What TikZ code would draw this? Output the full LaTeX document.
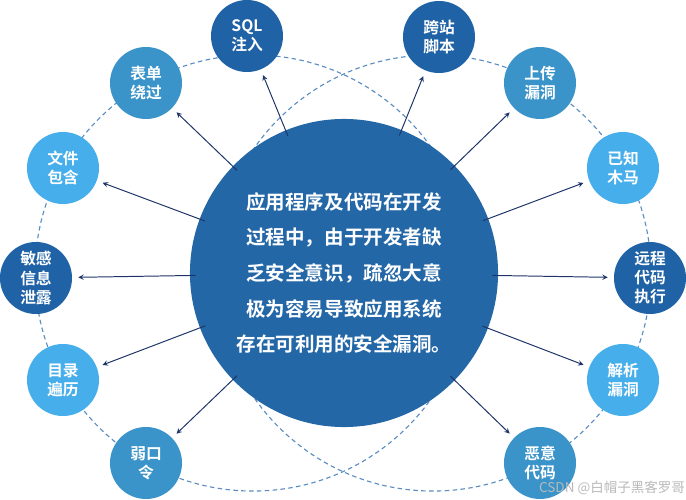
\documentclass[tikz,border=0pt]{standalone}
\usepackage{fontspec}
\usepackage{tikz}
\usepackage{xcolor}
\usetikzlibrary{positioning}
\usetikzlibrary{calc}
\usetikzlibrary{shapes,arrows}
\newfontfamily\cjk{Noto Sans CJK SC}[BoldFont={Noto Sans CJK SC Bold}]

\definecolor{coreblue}{HTML}{2467A7}
\definecolor{darkball}{HTML}{1F62A5}
\definecolor{midball}{HTML}{3A94C9}
\definecolor{lightball}{HTML}{46AEEA}
\definecolor{dashblue}{HTML}{5A8CC2}
\definecolor{arrownavy}{HTML}{1E3468}

\begin{document}
\begin{tikzpicture}[x=0.025cm,y=-0.025cm,
  ball/.style={circle,minimum size=1.8cm,inner sep=0pt,align=center,text=white,
    font={\cjk\bfseries\fontsize{11.2}{13.6}\selectfont}},
  darkb/.style={ball,fill=darkball},
  midb/.style={ball,fill=midball},
  lightb/.style={ball,fill=lightball},
  core/.style={circle,minimum size=7.7cm,inner sep=0pt,fill=coreblue,align=center,text=white,
    font={\cjk\bfseries\fontsize{13.9}{25.4}\selectfont}},
  ring/.style={dashblue,line width=0.8pt,dash pattern=on 3.2pt off 2.4pt},
  arr/.style={-stealth,arrownavy,line width=0.7pt,shorten <=-0.15cm,shorten >=0.15cm}]
\useasboundingbox (0,0) rectangle (686,500);

% dashed rings
\coordinate (lc) at (253,273);
\coordinate (rc) at (433,273);
\draw [ring] (lc) circle [radius=5.45cm];
\draw [ring] (rc) circle [radius=5.45cm];

% centre
\node [core] (c) at (344,273) {应用程序及代码在开发\\过程中，由于开发者缺\\乏安全意识，疏忽大意\\极为容易导致应用系统\\存在可利用的安全漏洞。};

% left side
\node [darkb] (sql) at (247,36) {SQL\\注入};
\node [midb] (bd) at (146,83) {表单\\绕过};
\node [lightb] (wj) at (63,168) {文件\\包含};
\node [darkb] (mg) at (36,278) {敏感\\信息\\泄露};
\node [lightb] (ml) at (63,380) {目录\\遍历};
\node [midb] (rk) at (146,463) {弱口\\令};

% right side
\node [darkb] (kz) at (439,37) {跨站\\脚本};
\node [midb] (sc) at (540,83) {上传\\漏洞};
\node [lightb] (yz) at (623,168) {已知\\木马};
\node [darkb] (yc) at (650,278) {远程\\代码\\执行};
\node [lightb] (jx) at (623,380) {解析\\漏洞};
\node [midb] (ey) at (540,463) {恶意\\代码};

% arrows
\draw [arr] (c) -- (sql);
\draw [arr] (c) -- (bd);
\draw [arr] (c) -- (wj);
\draw [arr] (c) -- (mg);
\draw [arr] (c) -- (ml);
\draw [arr] (c) -- (rk);
\draw [arr] (c) -- (kz);
\draw [arr] (c) -- (sc);
\draw [arr] (c) -- (yz);
\draw [arr] (c) -- (yc);
\draw [arr] (c) -- (jx);
\draw [arr] (c) -- (ey);

\node [text=gray!55,inner sep=0pt,font={\cjk\fontsize{9.6}{12}\selectfont}] (wm) at (612,488) {CSDN @白帽子黑客罗哥};
\end{tikzpicture}
\end{document}
